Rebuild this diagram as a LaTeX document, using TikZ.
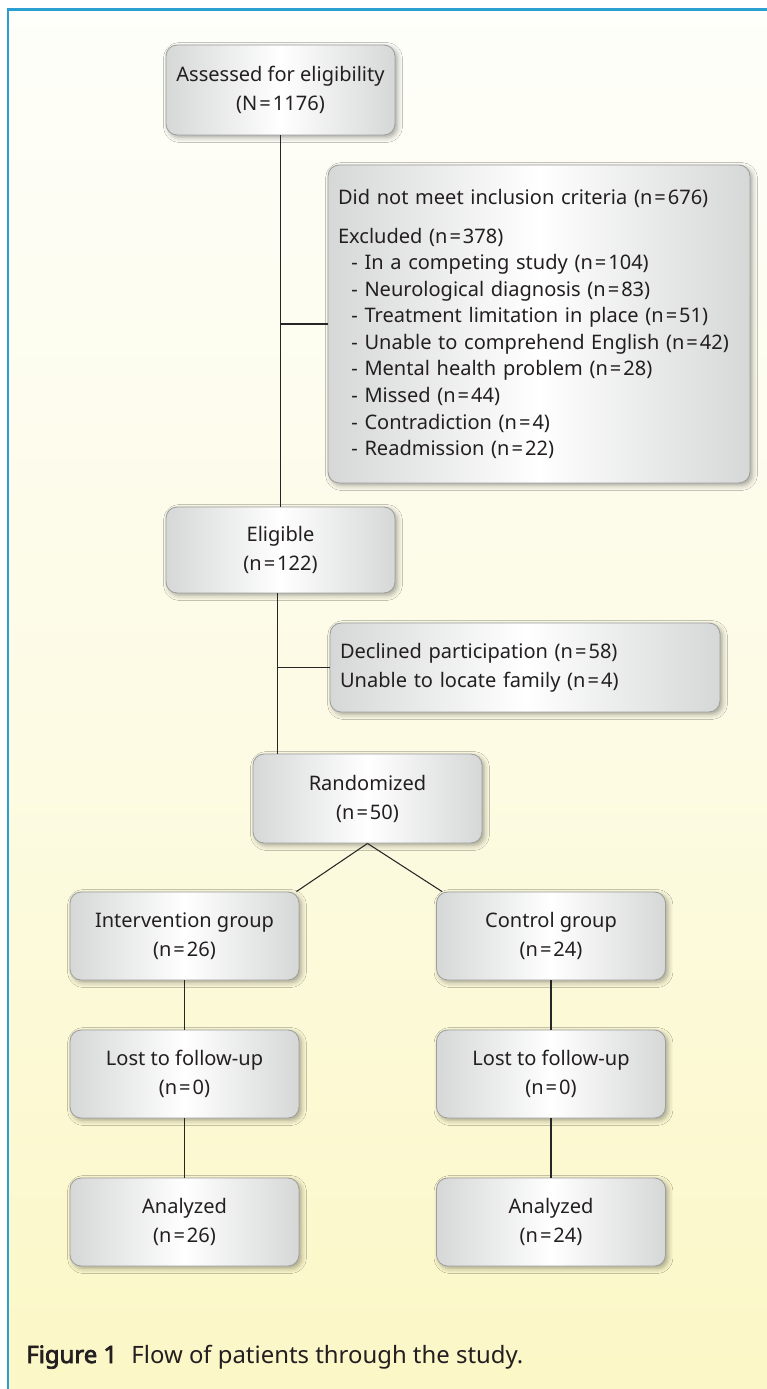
\documentclass[tikz,border=0pt]{standalone}
\usepackage{fontspec}
\setmainfont{Noto Sans}
\newfontfamily\capboldfont{Noto Sans}[FakeBold=3]
\usepackage{tikz}
\usetikzlibrary{positioning,calc,shadows,shadows.blur}
\usepackage{xcolor}

\definecolor{framecol}{HTML}{2B9ED2}
\definecolor{paletop}{HTML}{FEFEFA}
\definecolor{palebot}{HTML}{FBF7C6}
\definecolor{boxedge}{HTML}{D6D7D7}
\definecolor{inktext}{HTML}{231F20}
\newcommand{\eqs}{\kern0.1em=\kern0.1em}

\begin{document}
\begin{tikzpicture}[
    x=0.02cm, y=-0.02cm,
    every node/.style={text=inktext},
    flowbox/.style={
        rectangle,
        rounded corners=0.22cm,
        draw=gray!75,
        line width=0.5pt,
        left color=boxedge,
        right color=boxedge,
        middle color=white,
        blur shadow={shadow xshift=0.05cm, shadow yshift=-0.05cm,
                     shadow blur radius=0.1cm, shadow opacity=35},
        minimum width=4.58cm,
        minimum height=1.76cm,
        align=center,
        font=\fontsize{11.4}{16.5}\selectfont
    },
    link/.style={draw=black!85, line width=0.6pt}
]

% ---------------- Page and frame ----------------
\useasboundingbox (0,0) rectangle (767,1389);
\shade[top color=paletop, bottom color=palebot, middle color=paletop!60!palebot]
    (8,10) rectangle (767,1389);
\draw[framecol, line width=0.06cm] (767,10) -- (8,10) -- (8,1389);

% ---------------- Boxes ----------------
\node[flowbox, minimum height=1.80cm] (assess) at (280.5,90)
    {Assessed for eligibility\\(N\eqs 1176)};
\node[flowbox, minimum width=8.44cm, minimum height=6.36cm,
      align=left, text width=8.04cm,
      font=\fontsize{11.4}{15.1}\selectfont] (excl) at (539,324)
    {Did not meet inclusion criteria (n\eqs 676)\\[7pt]
     Excluded (n\eqs 378)\\
     \ \ - In a competing study (n\eqs 104)\\
     \ \ - Neurological diagnosis (n\eqs 83)\\
     \ \ - Treatment limitation in place (n\eqs 51)\\
     \ \ - Unable to comprehend English (n\eqs 42)\\
     \ \ - Mental health problem (n\eqs 28)\\
     \ \ - Missed (n\eqs 44)\\
     \ \ - Contradiction (n\eqs 4)\\
     \ \ - Readmission (n\eqs 22)};
\node[flowbox, minimum height=1.72cm] (elig) at (280.5,550)
    {Eligible\\(n\eqs 122)};
\node[flowbox, minimum width=7.80cm, minimum height=1.78cm,
      align=left, text width=7.40cm] (decl) at (525,667.5)
    {Declined participation (n\eqs 58)\\
     Unable to locate family (n\eqs 4)};
\node[flowbox, minimum height=1.78cm] (rand) at (367.5,798.5)
    {Randomized\\(n\eqs 50)};

\node[flowbox] (intv) at (184.5,936) {Intervention group\\(n\eqs 26)};
\node[flowbox] (ctrl) at (551,936) {Control group\\(n\eqs 24)};
\node[flowbox] (lostI) at (184.5,1074) {Lost to follow-up\\(n\eqs 0)};
\node[flowbox] (lostC) at (551,1074) {Lost to follow-up\\(n\eqs 0)};
\node[flowbox] (analI) at (184.5,1222) {Analyzed\\(n\eqs 26)};
\node[flowbox] (analC) at (551,1222) {Analyzed\\(n\eqs 24)};

% ---------------- Connectors ----------------
\draw[link] (assess.south) -- (elig.north);
\draw[link] (excl.west) -- (excl.west -| assess.south);
\draw[link] ([xshift=-1.5]elig.south) -- ([xshift=-1.5]elig.south |- rand.north);
\draw[link] (decl.west) -- ([xshift=-1.5]decl.west -| elig.south);
\draw[link] (rand.south) -- ([xshift=-0.06cm]intv.north east);
\draw[link] (rand.south) -- ([xshift=0.12cm]ctrl.north west);
\draw[link] (intv) -- (lostI);
\draw[link] (lostI) -- (analI);
\draw[link] (ctrl) -- (lostC);
\draw[link] (lostC) -- (analC);

% ---------------- Caption ----------------
\node[anchor=base west, inner sep=0pt, font=\fontsize{13.6}{16}\selectfont] (caption)
    at (26,1363) {{\capboldfont Figure 1}\hspace{0.6em}Flow of patients through the study.};

\end{tikzpicture}
\end{document}
